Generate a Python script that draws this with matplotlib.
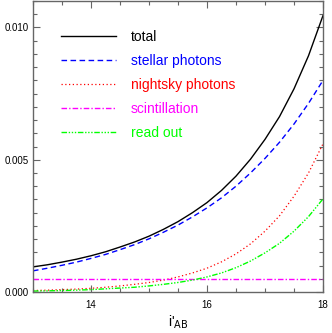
import numpy as np
import matplotlib
matplotlib.use("Agg")
import matplotlib.pyplot as plt
from matplotlib.ticker import MultipleLocator

plt.rcParams['font.family'] = ['Liberation Sans', 'DejaVu Sans']

# magnitude grid (i'_AB)
mag = [13.0, 13.25, 13.5, 13.75, 14.0, 14.25, 14.5, 14.75, 15.0, 15.25, 15.5,
       15.75, 16.0, 16.25, 16.5, 16.75, 17.0, 17.25, 17.5, 17.75, 18.0]

# noise contributions
total = [0.00095, 0.00103, 0.00113, 0.00124, 0.00137, 0.00152, 0.00170, 0.00189,
         0.00211, 0.00237, 0.00266, 0.00300, 0.00338, 0.00384, 0.00438, 0.00502,
         0.00577, 0.00663, 0.00768, 0.00893, 0.01045]
stellar = [0.00080, 0.00090, 0.00101, 0.00113, 0.00127, 0.00142, 0.00160, 0.00179,
           0.00201, 0.00226, 0.00253, 0.00284, 0.00318, 0.00356, 0.00400, 0.00450,
           0.00505, 0.00566, 0.00635, 0.00713, 0.00800]
nightsky = [0.000056, 0.00007, 0.00009, 0.00011, 0.00014, 0.00018, 0.00023, 0.00029,
            0.00036, 0.00045, 0.00057, 0.00072, 0.00090, 0.00114, 0.00144, 0.00182,
            0.00230, 0.00288, 0.00362, 0.00450, 0.00560]
scint = [0.0005] * len(mag)
readout = [0.000035, 0.000045, 0.000055, 0.00007, 0.00009, 0.00012, 0.00015, 0.00018,
           0.00023, 0.00029, 0.00036, 0.00045, 0.00057, 0.00072, 0.00092, 0.00117,
           0.00148, 0.00184, 0.00230, 0.00285, 0.00352]

fig = plt.figure(figsize=(3.32, 3.33), dpi=100)
ax = fig.add_axes([0.0994, 0.1231, 0.8735, 0.8739])

ax.plot(mag, total, color="black", lw=1.0, label="total")
ax.plot(mag, stellar, color="#0000ff", lw=1.0, linestyle=(0, (4, 2.5)), label="stellar photons")
ax.plot(mag, nightsky, color="#ff0000", lw=0.9, linestyle=(0, (1, 2)), label="nightsky photons")
ax.plot(mag, scint, color="#ff00ff", lw=1.0, linestyle=(0, (4, 1.5, 1, 1.5)), label="scintillation")
ax.plot(mag, readout, color="#00ff00", lw=1.0,
        linestyle=(0, (4, 1.2, 1, 1.2, 1, 1.2, 1, 1.2)), label="read out")

ax.set_xlim(13, 18)
ax.set_ylim(0, 0.0110)
ax.xaxis.set_major_locator(MultipleLocator(2))
ax.xaxis.set_minor_locator(MultipleLocator(0.5))
ax.yaxis.set_major_locator(MultipleLocator(0.005))
ax.yaxis.set_minor_locator(MultipleLocator(0.0005))
ax.yaxis.set_major_formatter(matplotlib.ticker.FormatStrFormatter("%.3f"))

ax.tick_params(which="both", direction="in", top=True, right=True,
               color="#666666", labelsize=7)
ax.tick_params(which="major", length=5, width=0.8)
ax.tick_params(which="minor", length=3, width=0.8)
ax.tick_params(axis="x", pad=6)
ax.tick_params(axis="y", pad=3)
for s in ax.spines.values():
    s.set_color("#666666")
    s.set_linewidth(1.0)

ax.set_xlabel(r"i'$_{\rm AB}$", fontsize=10, labelpad=2)

ax.legend(loc="upper left", bbox_to_anchor=(0.095, 0.901), frameon=False,
          fontsize=10, handlelength=4.0, handletextpad=1.07, labelspacing=0.72,
          borderpad=0, borderaxespad=0, labelcolor="linecolor")

fig.savefig("out.png", dpi=100)
